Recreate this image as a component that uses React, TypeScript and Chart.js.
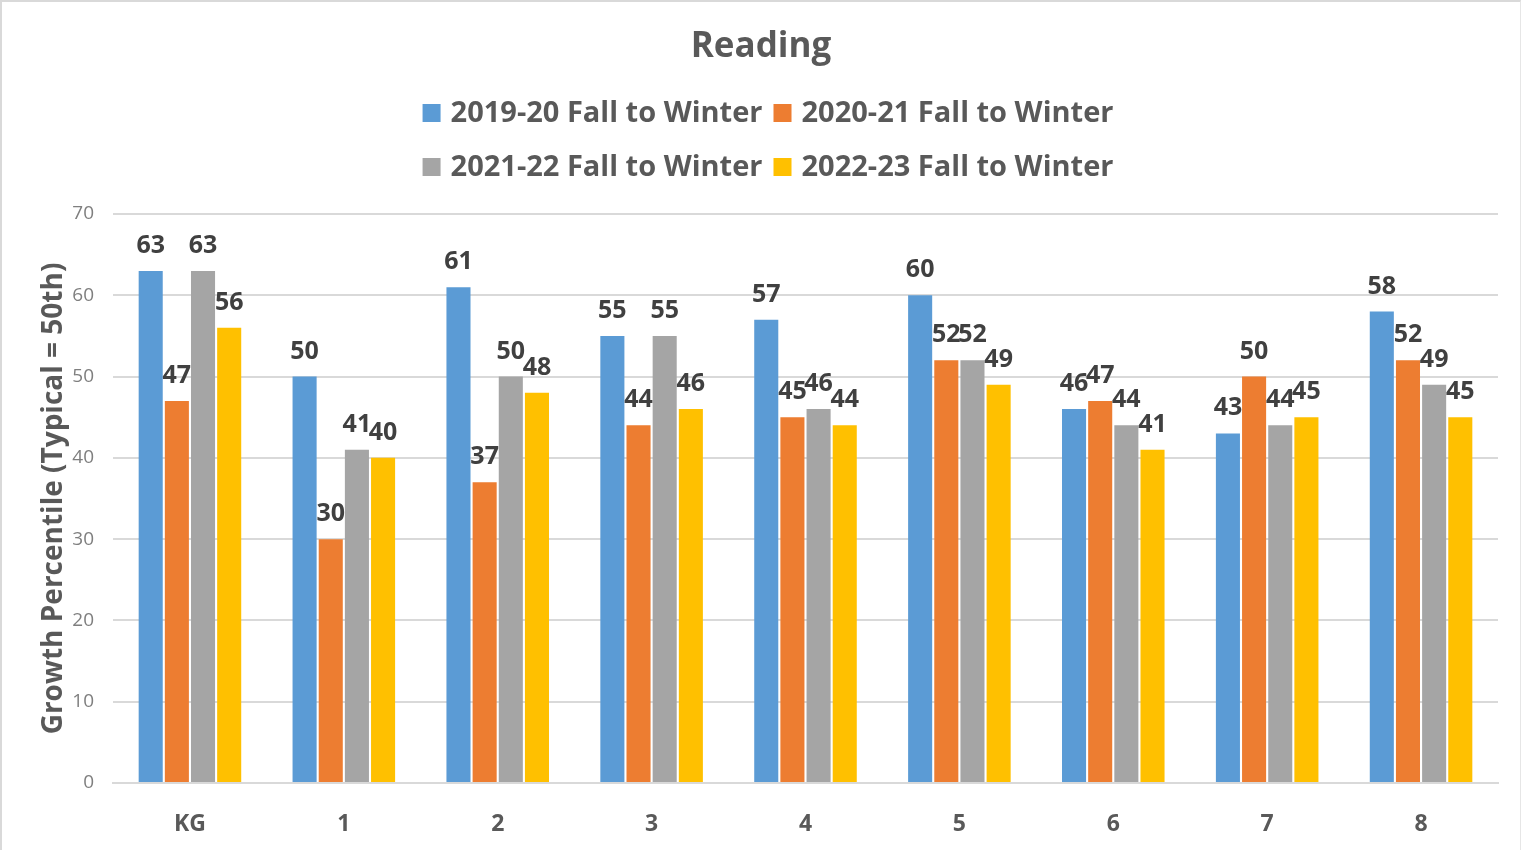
import React, { useEffect, useRef } from "react";
import { Chart, registerables } from "chart.js";

Chart.register(...registerables);

const categories = ["KG", "1", "2", "3", "4", "5", "6", "7", "8"];
const seriesLabels = [
  "2019-20 Fall to Winter",
  "2020-21 Fall to Winter",
  "2021-22 Fall to Winter",
  "2022-23 Fall to Winter",
];
const values2019 = [63, 50, 61, 55, 57, 60, 46, 43, 58];
const values2020 = [47, 30, 37, 44, 45, 52, 47, 50, 52];
const values2021 = [63, 41, 50, 55, 46, 52, 44, 44, 49];
const values2022 = [56, 40, 48, 46, 44, 49, 41, 45, 45];
const seriesColors = ["#5B9BD5", "#ED7D31", "#A5A5A5", "#FFC000"];
const chartTitle = "Reading";
const yAxisTitle = "Growth Percentile (Typical = 50th)";

const FONT = "'Open Sans', 'Noto Sans', sans-serif";

const dataLabelPlugin = {
  id: "dataLabels",
  afterDatasetsDraw(chart: any) {
    const ctx = chart.ctx;
    ctx.save();
    ctx.font = `bold 25px ${FONT}`;
    ctx.fillStyle = "#404040";
    ctx.textAlign = "center";
    ctx.textBaseline = "alphabetic";
    chart.data.datasets.forEach((ds: any, i: number) => {
      const meta = chart.getDatasetMeta(i);
      meta.data.forEach((el: any, j: number) => {
        ctx.fillText(String(ds.data[j]), el.x, el.y - 18);
      });
    });
    ctx.restore();
  },
};

const customLegendPlugin = {
  id: "customLegend",
  afterDraw(chart: any) {
    const ctx = chart.ctx;
    const ds = chart.data.datasets;
    ctx.save();
    ctx.font = `bold 29px ${FONT}`;
    ctx.textBaseline = "middle";
    ctx.textAlign = "left";
    const box = 18;
    const boxGap = 10;
    const itemGap = 11;
    const rows = [[0, 1], [2, 3]];
    const rowY = [111, 165];
    const colW = [0, 0];
    rows.forEach((r) =>
      r.forEach((idx, c) => {
        const w = box + boxGap + ctx.measureText(ds[idx].label).width;
        colW[c] = Math.max(colW[c], w);
      })
    );
    const total = colW[0] + itemGap + colW[1];
    const startX = 766 - total / 2;
    rows.forEach((r, ri) => {
      let x = startX;
      r.forEach((idx, c) => {
        const y = rowY[ri];
        ctx.fillStyle = ds[idx].backgroundColor;
        ctx.fillRect(x, y - box / 2, box, box);
        ctx.fillStyle = "#595959";
        ctx.fillText(ds[idx].label, x + box + boxGap, y + 1);
        x += colW[c] + itemGap;
      });
    });
    ctx.restore();
  },
};

export default function App() {
  const canvasRef = useRef<HTMLCanvasElement | null>(null);

  useEffect(() => {
    if (!canvasRef.current) return;
    const allValues = [values2019, values2020, values2021, values2022];
    const chart = new Chart(canvasRef.current, {
      type: "bar",
      data: {
        labels: categories,
        datasets: allValues.map((vals, i) => ({
          label: seriesLabels[i],
          data: vals,
          backgroundColor: seriesColors[i],
          borderWidth: 0,
          categoryPercentage: 0.68,
          barPercentage: 0.92,
        })),
      },
      options: {
        animation: false,
        responsive: true,
        maintainAspectRatio: false,
        layout: { padding: { left: 22, right: 22, top: 0, bottom: 0 } },
        plugins: {
          legend: { display: false },
          tooltip: { enabled: false },
          title: {
            display: true,
            text: chartTitle,
            color: "#595959",
            font: { family: FONT, size: 35, weight: "bold", lineHeight: 1.2 },
            padding: { top: 24, bottom: 146 },
          },
        },
        scales: {
          x: {
            grid: { display: false, drawTicks: false },
            border: { display: true, color: "#d9d9d9", width: 2 },
            ticks: {
              color: "#595959",
              font: { family: FONT, size: 23, weight: "bold" },
              padding: 28,
            },
            afterFit(scale: any) {
              scale.height = 67;
            },
          },
          y: {
            min: 0,
            max: 70,
            ticks: {
              stepSize: 10,
              color: "#7f7f7f",
              font: { family: FONT, size: 19 },
              padding: 19,
            },
            grid: { color: "#d9d9d9", lineWidth: 2, drawTicks: false },
            border: { display: false },
            title: {
              display: true,
              text: yAxisTitle,
              color: "#595959",
              font: { family: FONT, size: 28, weight: "bold", lineHeight: 1.2 },
              padding: { top: 13, bottom: 0 },
            },
            afterFit(scale: any) {
              scale.width = 89;
            },
          },
        },
      },
      plugins: [dataLabelPlugin, customLegendPlugin],
    });
    return () => chart.destroy();
  }, []);

  return (
    <div
      style={{
        position: "absolute",
        left: 0,
        top: 0,
        width: 1521,
        height: 850,
        boxSizing: "border-box",
        borderTop: "2px solid #d9d9d9",
        borderLeft: "2px solid #d9d9d9",
        borderRight: "1px solid #e6e6e6",
        background: "#fff",
      }}
    >
      <canvas ref={canvasRef} />
    </div>
  );
}
